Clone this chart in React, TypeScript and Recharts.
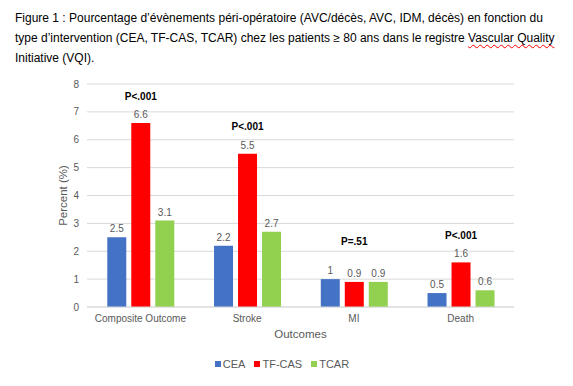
import { Bar, BarChart, CartesianGrid, LabelList, Legend, XAxis, YAxis } from "recharts";

const FONT = "'Liberation Sans', Arial, sans-serif";
const GRID = "#d9d9d9";
const MUTED = "#595959";

const CATEGORIES = ["Composite Outcome", "Stroke", "MI", "Death"];
const CEA = [2.5, 2.2, 1, 0.5];
const TF_CAS = [6.6, 5.5, 0.9, 1.6];
const TCAR = [3.1, 2.7, 0.9, 0.6];
const P_VALUES = ["P<.001", "P<.001", "P=.51", "P<.001"];
const Y_TICKS = [0, 1, 2, 3, 4, 5, 6, 7, 8];

const SERIES = [
  { key: "CEA", color: "#4472C4" },
  { key: "TF-CAS", color: "#FF0000" },
  { key: "TCAR", color: "#92D050" },
];

const data = CATEGORIES.map((name, i) => ({
  name,
  CEA: CEA[i],
  "TF-CAS": TF_CAS[i],
  TCAR: TCAR[i],
  p: P_VALUES[i],
}));

// the MI p-value box sits a bit higher than the others in the original
const P_LIFT: Record<string, number> = { MI: 40 };

function PLabel(props: any) {
  const { x, y, width, index } = props;
  const cat = CATEGORIES[index];
  const lift = P_LIFT[cat] ?? 27;
  return (
    <text
      x={x + width / 2}
      y={y - lift}
      textAnchor="middle"
      dominantBaseline="central"
      fontFamily={FONT}
      fontSize={10}
      fontWeight="bold"
      fill="#000"
    >
      {P_VALUES[index]}
    </text>
  );
}

function LegendContent() {
  return (
    <div
      style={{
        display: "flex",
        justifyContent: "center",
        alignItems: "center",
        height: 16,
        fontFamily: FONT,
        fontSize: 11,
        color: MUTED,
      }}
    >
      {SERIES.map((s) => (
        <div key={s.key} style={{ display: "flex", alignItems: "center", marginRight: 9 }}>
          <span style={{ width: 6, height: 6, background: s.color, display: "inline-block", marginRight: 2 }} />
          <span>{s.key}</span>
        </div>
      ))}
    </div>
  );
}

export default function App() {
  return (
    <div style={{ position: "absolute", left: 0, top: 0, width: 573, height: 386, background: "#fff" }}>
      <BarChart
        width={573}
        height={386}
        data={data}
        margin={{ top: 84, right: 59, bottom: 14, left: 50 }}
        barCategoryGap="19%"
        barGap={5}
      >
        <CartesianGrid stroke={GRID} vertical={false} />
        <XAxis
          dataKey="name"
          height={49}
          tick={{ fill: MUTED, fontSize: 10, fontFamily: FONT }}
          tickLine={false}
          tickMargin={2}
          axisLine={{ stroke: GRID }}
          label={{ value: "Outcomes", position: "insideTop", offset: 23, fill: MUTED, fontSize: 11.5, fontFamily: FONT }}
        />
        <YAxis
          width={37}
          domain={[0, 8]}
          ticks={Y_TICKS}
          tick={{ fill: MUTED, fontSize: 10, fontFamily: FONT }}
          tickLine={false}
          axisLine={false}
          label={{
            value: "Percent (%)",
            angle: -90,
            position: "insideLeft",
            offset: 13,
            fill: MUTED,
            fontSize: 11.5,
            fontFamily: FONT,
            style: { textAnchor: "middle" },
          }}
        />
        <Legend
          verticalAlign="bottom"
          content={<LegendContent />}
          wrapperStyle={{ left: 0, width: 573 }}
        />
        {SERIES.map((s) => (
          <Bar key={s.key} dataKey={s.key} fill={s.color} isAnimationActive={false}>
            <LabelList dataKey={s.key} position="top" offset={5} fill={MUTED} fontSize={10} fontFamily={FONT} />
            {s.key === "TF-CAS" ? <LabelList dataKey="p" content={<PLabel />} /> : null}
          </Bar>
        ))}
      </BarChart>
      <div
        style={{
          position: "absolute",
          left: 15,
          top: 8,
          fontFamily: FONT,
          fontSize: 12,
          lineHeight: "20px",
          color: "#000",
          whiteSpace: "nowrap",
        }}
      >
        Figure 1 : Pourcentage d’évènements péri-opératoire (AVC/décès, AVC, IDM, décès) en fonction du
        <br />
        type d’intervention (CEA, TF-CAS, TCAR) chez les patients ≥ 80 ans dans le registre{" "}
        <span style={{ textDecoration: "underline wavy red", textDecorationThickness: 1, textUnderlineOffset: 2 }}>
          Vascular Quality
        </span>
        <br />
        Initiative (VQI).
      </div>
    </div>
  );
}
